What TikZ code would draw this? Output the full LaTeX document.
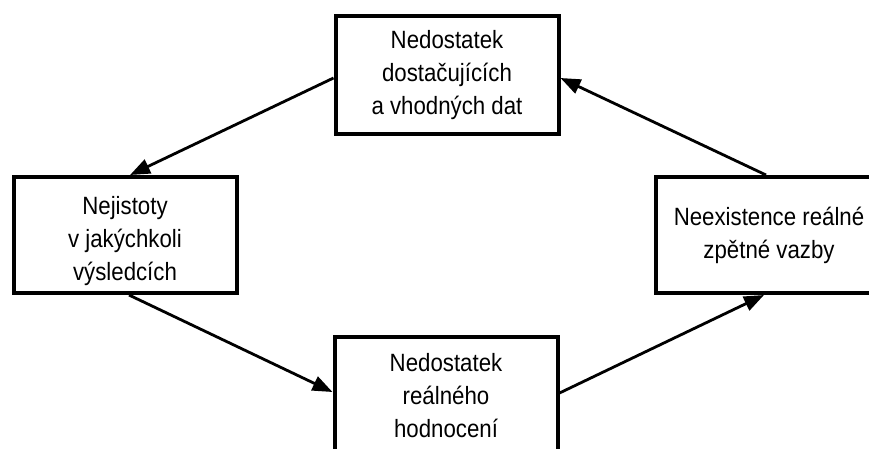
\documentclass[tikz,border=0pt]{standalone}
\usepackage{fontspec}
\setmainfont[FakeStretch=0.89]{Liberation Sans}
\usetikzlibrary{arrows.meta}
\begin{document}
\begin{tikzpicture}[x=1pt,y=-1pt,
  label text/.style={align=center, inner sep=0pt, font=\fontsize{25}{33}\selectfont},
  box/.style={label text, draw, line width=4pt, minimum width=223pt, minimum height=116pt},
  link/.style={line width=2.8pt, -{Triangle[length=20pt,width=15pt]}}]
\useasboundingbox (0,0) rectangle (869,448);

% the four stages of the cycle
\node[box, minimum height=118pt] (data) at (447,75)
  {Nedostatek\\dostačujících\\a vhodných dat};
\node[box] (uncert) at (125,235) {};
\node[label text] (uncertText) at (125,241)
  {Nejistoty\\v jakýchkoli\\výsledcích};
\node[box, minimum height=118pt] (eval) at (446,396)
  {Nedostatek\\reálného\\hodnocení};
\node[box, minimum width=226pt] (feedback) at (769,235)
  {Neexistence reálné\\zpětné vazby};

% connectors running round the cycle
\draw[link] ([yshift=-3pt]data.west) -- ([xshift=5pt]uncert.north);
\draw[link] ([xshift=4pt]uncert.south) -- ([yshift=4pt]eval.west);
\draw[link] ([yshift=3pt]eval.east) -- ([xshift=-5pt]feedback.south);
\draw[link] ([xshift=-3pt]feedback.north) -- ([yshift=-3pt]data.east);
\end{tikzpicture}
\end{document}
